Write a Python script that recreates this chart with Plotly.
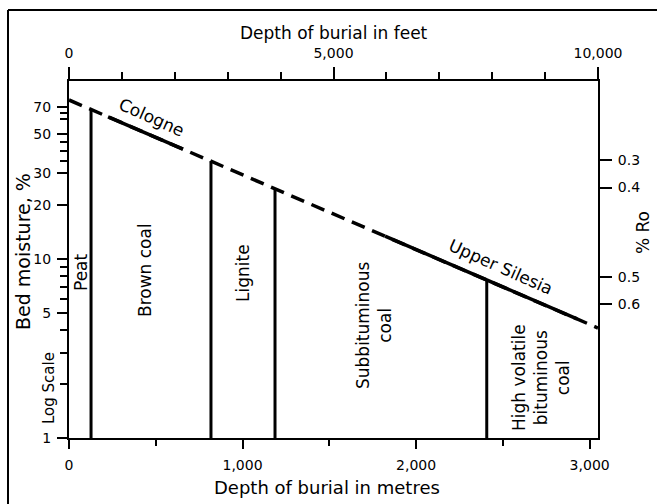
import plotly.graph_objects as go

# depth of burial (m) vs bed moisture (%)
line_depth = [0, 3048]
line_moist = [77.1, 4.11]

cologne_depth = [225, 657]
cologne_moist = [62.1, 41.0]

silesia_depth = [1821, 2927]
silesia_moist = [13.4, 4.62]

# rank boundaries: depth (m) and moisture where they meet the trend line
bound_depth = [127, 818, 1187, 2407]
bound_moist = [68.5, 35.2, 24.7, 7.6]

moist_ticks = [1, 5, 10, 20, 30, 50, 70]
moist_minor = [2, 3, 4, 6, 7, 8, 9, 35, 40, 45, 60, 65]

ro_labels = ["0.3", "0.4", "0.5", "0.6"]
ro_moist = [35.7, 25.0, 7.95, 5.6]

rank_names = ["Peat", "Brown coal", "Lignite", "Subbituminous<br>coal",
              "High volatile<br>bituminous<br>coal"]
rank_pos = [(81, 272), (145, 270), (243, 273), (374, 325), (541, 378)]

FONT = "DejaVu Sans"
L, R, T, B = 69, 598, 81, 438


def px(x, y):
    # pixel position -> paper coords
    return (x - L) / (R - L), (B - y) / (B - T)


fig = go.Figure()

fig.add_trace(go.Scatter(x=line_depth, y=line_moist, mode="lines",
                         line=dict(color="black", width=3.5, dash="14px,8px")))
fig.add_trace(go.Scatter(x=cologne_depth, y=cologne_moist, mode="lines",
                         line=dict(color="black", width=3.5)))
fig.add_trace(go.Scatter(x=silesia_depth, y=silesia_moist, mode="lines",
                         line=dict(color="black", width=3.5)))

vx, vy = [], []
for d, m in zip(bound_depth, bound_moist):
    vx += [d, d, None]
    vy += [1, m, None]
fig.add_trace(go.Scatter(x=vx, y=vy, mode="lines",
                         line=dict(color="black", width=3)))

# anchor trace for the secondary axes
fig.add_trace(go.Scatter(x=[0], y=[1], xaxis="x2", yaxis="y2", mode="markers",
                         marker=dict(opacity=0), hoverinfo="skip"))

axis_common = dict(showline=True, linewidth=2, linecolor="black",
                   showgrid=False, zeroline=False, ticks="outside",
                   tickwidth=2, tickcolor="black",
                   tickfont=dict(family=FONT, size=14, color="black"))

ylog_range = [0, 1.993]

fig.update_layout(
    width=657, height=504,
    margin=dict(l=L, r=657 - R, t=T, b=504 - B),
    paper_bgcolor="white", plot_bgcolor="white",
    showlegend=False,
    font=dict(family=FONT, color="black"),
    xaxis=dict(range=[0, 3048], tick0=0, dtick=1000, tickformat=",",
               ticklen=9, ticklabelstandoff=4,
               minor=dict(dtick=500, tick0=0, ticks="outside", ticklen=6,
                          tickwidth=2, tickcolor="black"),
               **axis_common),
    xaxis2=dict(overlaying="x", side="top", range=[0, 10000], tick0=0,
                dtick=5000, tickformat=",", ticklen=12, ticklabelstandoff=3,
                minor=dict(dtick=1000, tick0=0, ticks="outside", ticklen=7,
                           tickwidth=2, tickcolor="black"),
                **axis_common),
    yaxis=dict(type="log", range=ylog_range, tickmode="array",
               tickvals=moist_ticks, ticktext=[str(v) for v in moist_ticks],
               ticklen=10, ticklabelstandoff=3,
               minor=dict(tickmode="array", tickvals=moist_minor,
                          ticks="outside", ticklen=7, tickwidth=2,
                          tickcolor="black"),
               **axis_common),
    yaxis2=dict(type="log", overlaying="y", side="right", range=ylog_range,
                tickmode="array", tickvals=ro_moist, ticktext=ro_labels,
                ticklen=12, ticklabelstandoff=3, **axis_common),
)

ann = []


def add_text(text, x, y, size, angle=0):
    xp, yp = px(x, y)
    ann.append(dict(text=text, x=xp, y=yp, xref="paper", yref="paper",
                    showarrow=False, textangle=angle, align="center",
                    xanchor="center", yanchor="middle",
                    font=dict(family=FONT, size=size, color="black")))


for name, (x, y) in zip(rank_names, rank_pos):
    add_text(name, x, y, 17, -90)

add_text("Cologne", 151, 117, 17, 24)
add_text("Upper Silesia", 501, 267, 17, 24)
add_text("Depth of burial in feet", 334, 33, 17)
add_text("Depth of burial in metres", 327, 487, 18)
add_text("Bed moisture, %", 23, 252, 19, -90)
add_text("Log Scale", 49, 388, 15, -90)
add_text("% Ro", 643, 233, 17, -90)
fig.update_layout(annotations=ann)

# outer frame of the figure (top and left edges visible)
x0, y0 = px(8, 10)
fig.add_shape(type="line", xref="paper", yref="paper", x0=x0, y0=y0,
              x1=1.3, y1=y0, line=dict(color="black", width=2))
fig.add_shape(type="line", xref="paper", yref="paper", x0=x0, y0=y0,
              x1=x0, y1=-0.4, line=dict(color="black", width=2))

fig.write_html("out.html", config={"displayModeBar": False},
               post_script="document.body.style.margin='0';"
                           "document.body.style.overflow='hidden';")
